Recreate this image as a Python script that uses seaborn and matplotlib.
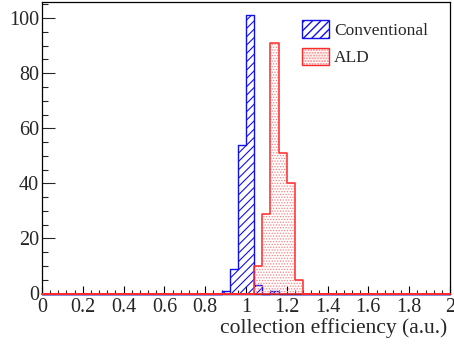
import matplotlib
matplotlib.use("Agg")
import matplotlib.pyplot as plt
from matplotlib.patches import Patch
from matplotlib.ticker import MultipleLocator
from matplotlib.legend_handler import HandlerTuple
import numpy as np
import pandas as pd
import seaborn as sns

# Data (histogram bin centres and counts, bin width 0.04 on 0..2)
conv_centers = [0.90, 0.94, 0.98, 1.02, 1.06, 1.14]
conv_counts = [1, 9, 54, 101, 3, 1]
ald_centers = [1.06, 1.10, 1.14, 1.18, 1.22, 1.26]
ald_counts = [10, 29, 91, 51, 40, 5]
series_names = ["Conventional", "ALD"]
x_label = "collection efficiency (a.u.)"
x_ticks = [0, 0.2, 0.4, 0.6, 0.8, 1, 1.2, 1.4, 1.6, 1.8, 2]
x_tick_labels = ["0", "0.2", "0.4", "0.6", "0.8", "1", "1.2", "1.4", "1.6", "1.8", "2"]
y_ticks = [0, 20, 40, 60, 80, 100]

sns.set_theme(style="ticks")
plt.rcParams["font.family"] = ["Liberation Serif", "DejaVu Serif"]

conv_df = pd.DataFrame({"x": conv_centers, "w": conv_counts})
ald_df = pd.DataFrame({"x": ald_centers, "w": ald_counts})

BLUE = "#1010ee"
RED = "#ff2a2a"
RED_DOT = "#ff8080"

fig = plt.figure(figsize=(4.54, 3.49), dpi=100)
ax = fig.add_axes([42 / 454, 1 - 293.5 / 349, 408 / 454, 292 / 349])

with plt.rc_context({"hatch.linewidth": 0.8}):
    sns.histplot(data=conv_df, x="x", weights="w", bins=50, binrange=(0, 2),
                 element="step", fill=True, ax=ax, color=BLUE, alpha=1,
                 facecolor="none", edgecolor=BLUE, hatch="////",
                 linewidth=1.0, zorder=2)
with plt.rc_context({"hatch.linewidth": 0.6}):
    sns.histplot(data=ald_df, x="x", weights="w", bins=50, binrange=(0, 2),
                 element="step", fill=True, ax=ax, color=RED, alpha=1,
                 facecolor="none", edgecolor=RED_DOT, hatch="......",
                 linewidth=0, zorder=3)
sns.histplot(data=ald_df, x="x", weights="w", bins=50, binrange=(0, 2),
             element="step", fill=True, ax=ax, color=RED, alpha=1,
             facecolor="none", edgecolor=RED, linewidth=1.1, zorder=4)
for coll in ax.collections:
    coll.set_clip_on(False)

ax.set_xlim(0, 2)
ax.set_ylim(0, 106.05)
ax.set_xticks(x_ticks)
ax.set_xticklabels(x_tick_labels)
ax.set_yticks(y_ticks)
ax.xaxis.set_minor_locator(MultipleLocator(0.04))
ax.yaxis.set_minor_locator(MultipleLocator(5))
ax.tick_params(axis="x", which="major", direction="in", length=8 * 0.72, width=0.8,
               labelsize=14.5, pad=3.0, color="black")
ax.tick_params(axis="x", which="minor", direction="in", length=4 * 0.72, width=0.8)
ax.tick_params(axis="y", which="major", direction="in", length=12.7 * 0.72, width=0.8,
               labelsize=14.5, pad=2)
ax.tick_params(axis="y", which="minor", direction="in", length=6 * 0.72, width=0.8)
for s in ax.spines.values():
    s.set_visible(True)
    s.set_color("black")
    s.set_linewidth(0.9)

ax.set_ylabel("")
ax.set_xlabel(x_label, fontsize=15.5, loc="right", labelpad=0)
ax.xaxis.set_label_coords(0.993, -0.083)
ax.xaxis.label.set_verticalalignment("top")
ax.grid(False)

with plt.rc_context({"hatch.linewidth": 0.8}):
    h1 = Patch(facecolor="white", edgecolor=BLUE, hatch="////", linewidth=1.0)
with plt.rc_context({"hatch.linewidth": 0.6}):
    h2a = Patch(facecolor="white", edgecolor=RED_DOT, hatch="......", linewidth=0)
h2b = Patch(facecolor="none", edgecolor=RED, linewidth=1.0)
ax.legend([h1, (h2a, h2b)], series_names, loc="upper left", bbox_to_anchor=(0.637, 0.935),
          frameon=False, fontsize=12.5, handlelength=1.55, handleheight=1.15,
          handletextpad=0.3, labelspacing=0.5, borderpad=0, borderaxespad=0,
          handler_map={tuple: HandlerTuple(ndivide=1, pad=0)})

fig.savefig("out.png", dpi=100)
